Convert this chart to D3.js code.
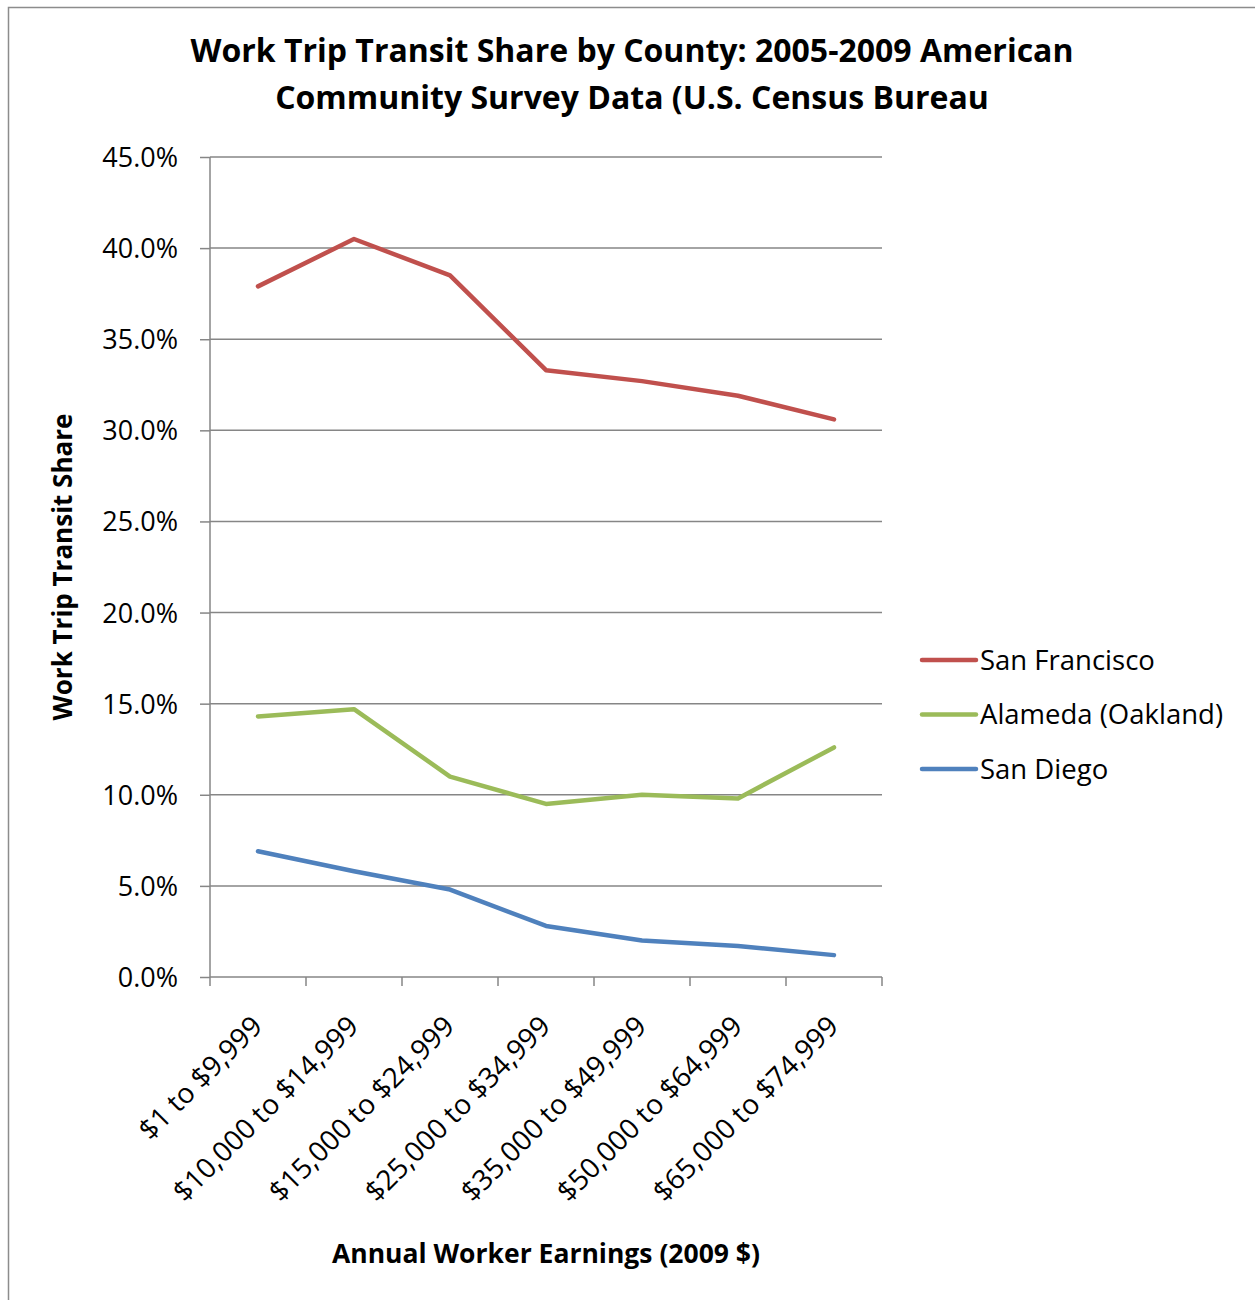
<!DOCTYPE html>
<html><head><meta charset="utf-8">
<script src="https://cdn.jsdelivr.net/npm/d3@7"></script>
<style>body{margin:0;background:#fff;} svg{display:block;font-family:"Open Sans",sans-serif;}</style>
</head><body>
<svg id="c" width="1255" height="1300"></svg>
<script>
const categories = ["$1 to $9,999","$10,000 to $14,999","$15,000 to $24,999","$25,000 to $34,999","$35,000 to $49,999","$50,000 to $64,999","$65,000 to $74,999"];
const seriesNames = ["San Francisco","Alameda (Oakland)","San Diego"];
const seriesColors = ["#C0504D","#9BBB59","#4F81BD"];
const sanFrancisco = [37.9, 40.5, 38.5, 33.3, 32.7, 31.9, 30.6];
const alameda = [14.3, 14.7, 11.0, 9.5, 10.0, 9.8, 12.6];
const sanDiego = [6.9, 5.8, 4.8, 2.8, 2.0, 1.7, 1.2];
const yTicks = [0,5,10,15,20,25,30,35,40,45];
const title = ["Work Trip Transit Share by County: 2005-2009 American","Community Survey Data (U.S. Census Bureau"];
const yTitle = "Work Trip Transit Share";
const xTitle = "Annual Worker Earnings (2009 $)";

const series = [sanFrancisco, alameda, sanDiego];
const svg = d3.select("#c");
const L=210,R=882,T=157,B=977;
const x = d3.scaleBand().domain(categories).range([L,R]);
const y = d3.scaleLinear().domain([0,45]).range([B,T]);
const grid="#868686";
const FF='"Open Sans",sans-serif';

svg.append("path").attr("d","M8.5,1300 V7.5 H1255").attr("fill","none").attr("stroke","#8c8c8c").attr("stroke-width",1.5);

svg.append("g").selectAll("text").data(title).join("text")
  .attr("x",632).attr("y",(d,i)=>62+i*47).attr("text-anchor","middle")
  .attr("font-weight","bold").attr("font-size",32).attr("fill","#000").text(d=>d);

svg.append("g").selectAll("line").data(yTicks.filter(d=>d>0)).join("line")
  .attr("x1",L).attr("x2",R).attr("y1",d=>y(d)).attr("y2",d=>y(d))
  .attr("stroke",grid).attr("stroke-width",1.5);

const ya = svg.append("g").attr("transform",`translate(${L},0)`)
  .call(d3.axisLeft(y).tickValues(yTicks).tickSize(10).tickPadding(22).tickFormat(d=>d.toFixed(1)+"%"));
ya.select(".domain").attr("stroke",grid).attr("stroke-width",1.5).attr("d",`M0,${T}V${B}`);
ya.selectAll(".tick line").attr("stroke",grid).attr("stroke-width",1.5);
ya.selectAll(".tick text").attr("font-size",27).attr("fill","#000").attr("font-family",FF).attr("dy","0.35em");

const xa = svg.append("g").attr("transform",`translate(0,${B})`)
  .call(d3.axisBottom(x).tickSize(0).tickFormat(""));
xa.select(".domain").attr("stroke",grid).attr("stroke-width",1.5).attr("d",`M${L},0H${R}`);
xa.selectAll(".tick").remove();
const bounds = categories.map(c=>x(c)).concat([R]);
xa.append("g").selectAll("line").data(bounds).join("line")
  .attr("x1",d=>d).attr("x2",d=>d).attr("y1",0).attr("y2",9).attr("stroke",grid).attr("stroke-width",1.5);
xa.append("g").selectAll("text").data(categories).join("text")
  .attr("transform",d=>`translate(${x(d)+x.bandwidth()/2+6},${51}) rotate(-45)`)
  .attr("text-anchor","end").attr("font-size",28).attr("fill","#000").attr("font-family",FF)
  .text(d=>d);

svg.append("text").attr("transform","translate(72,567) rotate(-90)").attr("text-anchor","middle")
  .attr("font-weight","bold").attr("font-size",26).text(yTitle);
svg.append("text").attr("x",546).attr("y",1263).attr("text-anchor","middle")
  .attr("font-weight","bold").attr("font-size",26.5).text(xTitle);

const line = d3.line().x((d,i)=>x(categories[i])+x.bandwidth()/2).y(d=>y(d));
svg.append("g").selectAll("path").data(series).join("path")
  .attr("d",line).attr("fill","none").attr("stroke",(d,i)=>seriesColors[i])
  .attr("stroke-width",4.5).attr("stroke-linecap","round").attr("stroke-linejoin","round");

const lg = svg.append("g").selectAll("g").data(seriesNames).join("g")
  .attr("transform",(d,i)=>`translate(922,${660+i*54.5})`);
lg.append("line").attr("x1",0).attr("x2",54).attr("stroke",(d,i)=>seriesColors[i]).attr("stroke-width",4.5).attr("stroke-linecap","round");
lg.append("text").attr("x",58).attr("dy","0.35em").attr("font-size",27.5).attr("fill","#000").text(d=>d);
</script>
</body></html>
